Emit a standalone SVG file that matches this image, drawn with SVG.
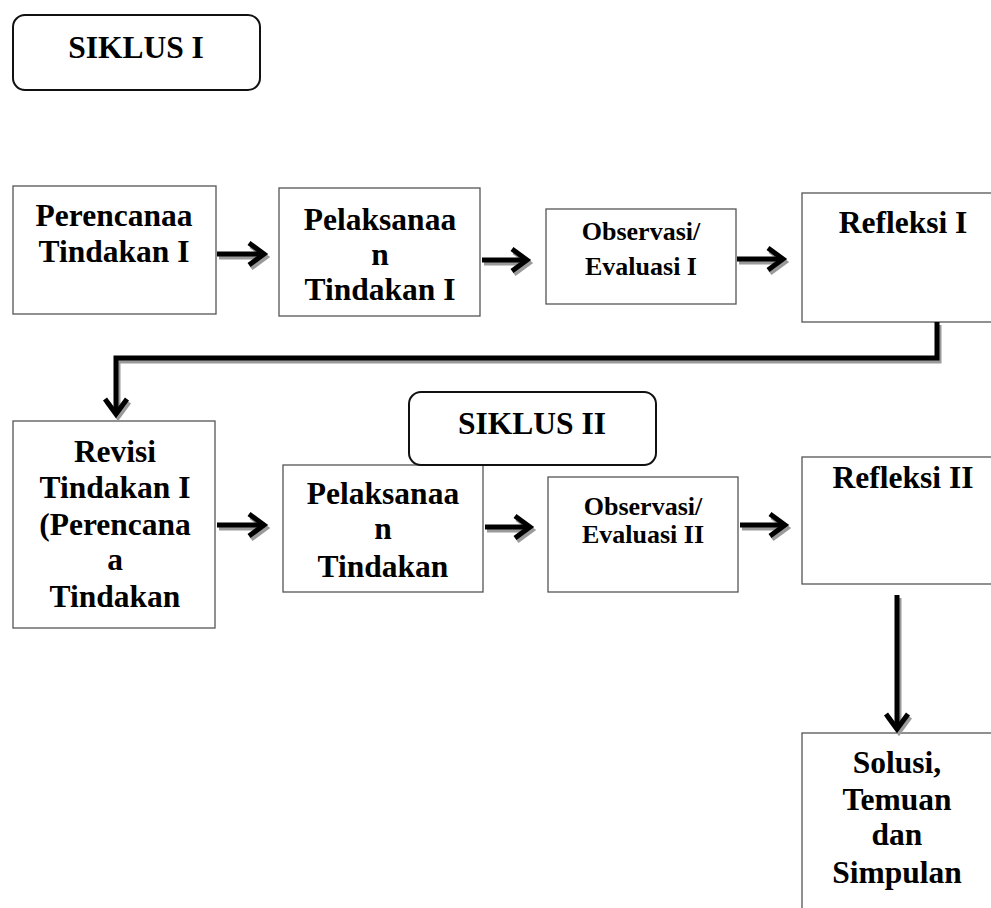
<svg xmlns="http://www.w3.org/2000/svg" width="991" height="908" viewBox="0 0 991 908">
<style>
.box{fill:#fff;stroke:#555;stroke-width:1.3}
.lbl{fill:#fff;stroke:#111;stroke-width:2}
text{font-family:"Liberation Serif","Times New Roman",serif;font-weight:bold;fill:#000;text-anchor:middle}
.big{font-size:31.5px}
.mid{font-size:26px}
.ln{fill:none;stroke:#000;stroke-width:5}
.sh{fill:none;stroke:#9a9a9a;stroke-width:5}
</style>
<defs>
<marker id="hd" viewBox="0 0 24 28" refX="18" refY="14" markerWidth="24" markerHeight="28" markerUnits="userSpaceOnUse" orient="auto" overflow="visible">
<path d="M3,3 L18,14 L3,25" fill="none" stroke="#000" stroke-width="5"/>
</marker>
<marker id="hs" viewBox="0 0 24 28" refX="18" refY="14" markerWidth="24" markerHeight="28" markerUnits="userSpaceOnUse" orient="auto" overflow="visible">
<path d="M3,3 L18,14 L3,25" fill="none" stroke="#9a9a9a" stroke-width="5"/>
</marker>
</defs>

<g id="siklus1"><rect class="lbl" x="13" y="15" width="247" height="75" rx="12"/><text class="big" x="136" y="58">SIKLUS I</text></g>

<g id="perencanaan"><rect class="box" x="13" y="186" width="203" height="128"/><text class="big" x="114" y="226">Perencanaa</text><text class="big" x="114" y="262">Tindakan I</text></g>

<g id="pelaksanaan1"><rect class="box" x="279" y="188" width="201" height="128"/><text class="big" x="380" y="230">Pelaksanaa</text><text class="big" x="380" y="265">n</text><text class="big" x="380" y="300">Tindakan I</text></g>

<g id="observasi1"><rect class="box" x="546" y="209" width="190" height="95"/><text class="mid" x="641" y="240">Observasi/</text><text class="mid" x="641" y="275">Evaluasi I</text></g>

<g id="refleksi1"><rect class="box" x="802" y="193" width="200" height="129"/><text class="big" x="903" y="233">Refleksi I</text></g>

<g id="revisi"><rect class="box" x="13" y="421" width="202" height="207"/><text class="big" x="115" y="462">Revisi</text><text class="big" x="115" y="498">Tindakan I</text><text class="big" x="115" y="535">(Perencana</text><text class="big" x="115" y="570">a</text><text class="big" x="115" y="607">Tindakan</text></g>

<g id="pelaksanaan2"><rect class="box" x="283" y="465" width="200" height="127"/><text class="big" x="383" y="504">Pelaksanaa</text><text class="big" x="383" y="539">n</text><text class="big" x="383" y="577">Tindakan</text></g>

<g id="siklus2"><rect class="lbl" x="409" y="392" width="247" height="73" rx="12"/><text class="big" x="532" y="434">SIKLUS II</text></g>

<g id="observasi2"><rect class="box" x="548" y="477" width="190" height="115"/><text class="mid" x="643" y="515">Observasi/</text><text class="mid" x="643" y="543">Evaluasi II</text></g>

<g id="refleksi2"><rect class="box" x="802" y="457" width="200" height="127"/><text class="big" x="903" y="488">Refleksi II</text></g>

<g id="solusi"><rect class="box" x="802" y="733" width="200" height="190"/><text class="big" x="897" y="773">Solusi,</text><text class="big" x="897" y="810">Temuan</text><text class="big" x="897" y="845">dan</text><text class="big" x="897" y="883">Simpulan</text></g>

<g id="connectors">
<g transform="translate(2,3)">
<path class="sh" d="M217,254 H264" marker-end="url(#hs)"/>
<path class="sh" d="M482,260 H527" marker-end="url(#hs)"/>
<path class="sh" d="M737,259 H783" marker-end="url(#hs)"/>
<path class="sh" d="M937,322 V358 H116 V414" stroke-width="6" marker-end="url(#hs)"/>
<path class="sh" d="M217,525 H264" marker-end="url(#hs)"/>
<path class="sh" d="M485,527 H530" marker-end="url(#hs)"/>
<path class="sh" d="M740,525 H785" marker-end="url(#hs)"/>
<path class="sh" d="M897,595 V729" marker-end="url(#hs)"/>
</g>
<path class="ln" d="M217,254 H264" marker-end="url(#hd)"/>
<path class="ln" d="M482,260 H527" marker-end="url(#hd)"/>
<path class="ln" d="M737,259 H783" marker-end="url(#hd)"/>
<path class="ln" d="M937,322 V358 H116 V414" stroke-width="6" marker-end="url(#hd)"/>
<path class="ln" d="M217,525 H264" marker-end="url(#hd)"/>
<path class="ln" d="M485,527 H530" marker-end="url(#hd)"/>
<path class="ln" d="M740,525 H785" marker-end="url(#hd)"/>
<path class="ln" d="M897,595 V729" marker-end="url(#hd)"/>
</g>
</svg>
